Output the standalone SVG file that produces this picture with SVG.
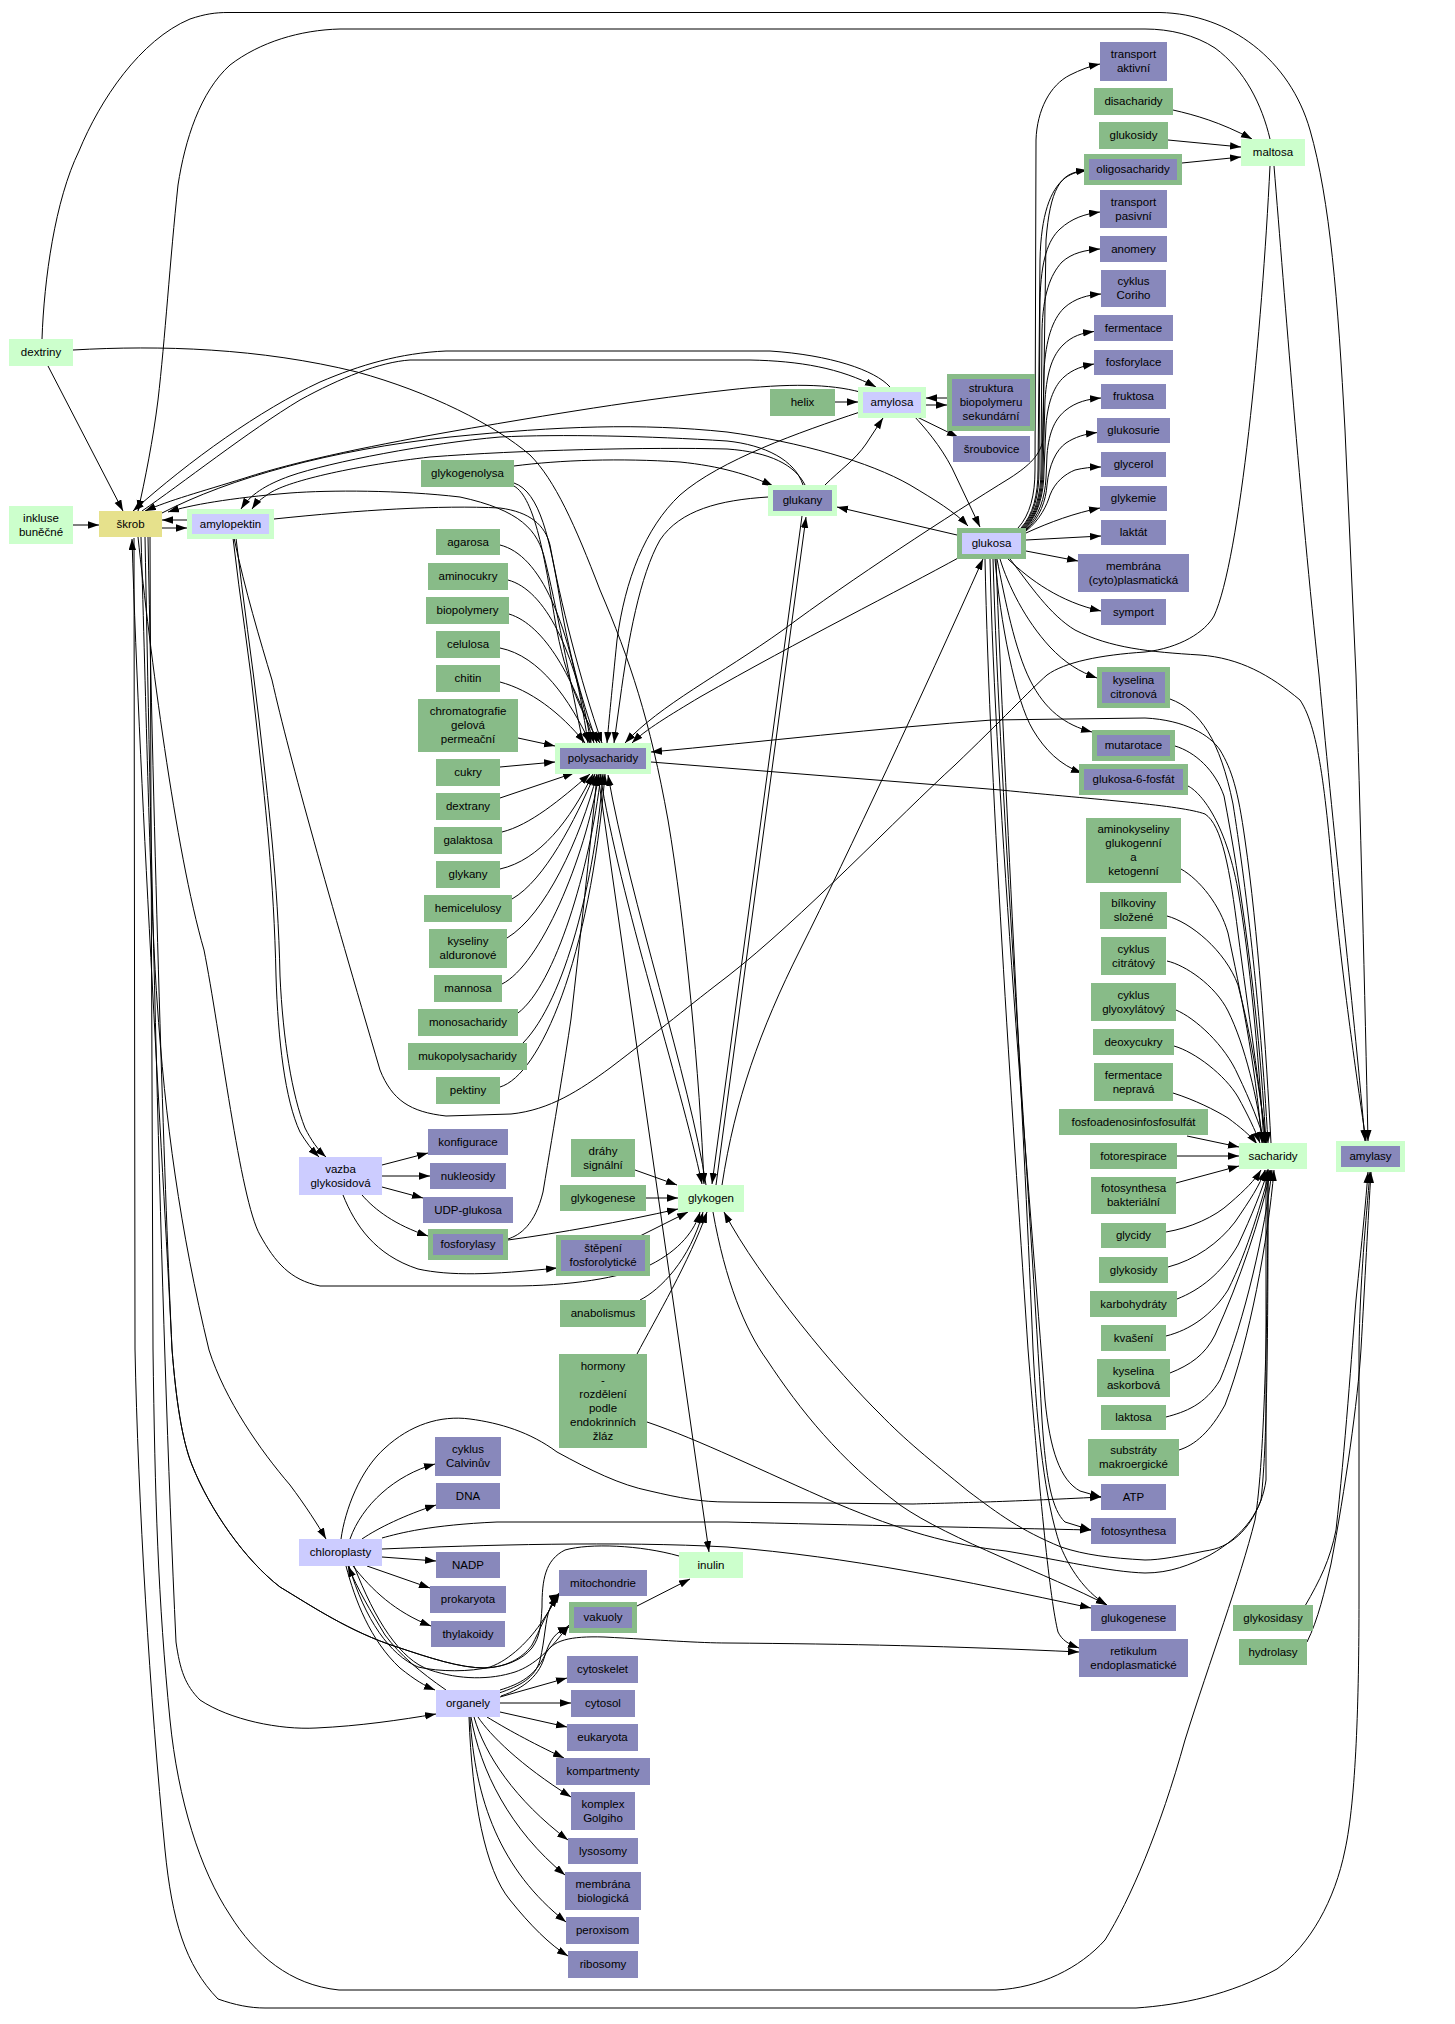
<svg xmlns="http://www.w3.org/2000/svg" width="1455" height="2024" viewBox="0 0 1455 2024">
<style>
.g{fill:#88bb88}.p{fill:#8888bb}.l{fill:#ccffcc}.v{fill:#ccccff}.y{fill:#e6e18c}
text{font-family:"Liberation Sans",Arial,sans-serif;font-size:11.5px;fill:#000;text-anchor:middle}
#edges path{fill:none;stroke:#000;stroke-width:1;marker-end:url(#a)}
#edges path.na{marker-end:none}
</style>
<defs>
<marker id="a" markerUnits="userSpaceOnUse" markerWidth="11" markerHeight="8" refX="11" refY="3.75" orient="auto"><path d="M0,0 L11,3.75 L0,7.5 z" fill="#000"/></marker>
</defs>
<rect width="1455" height="2024" fill="#fff"/>
<g id="edges">
<path d="M48,366 L123,511"/>
<path d="M73,525 L99,525"/>
<path d="M162,528 L187,528"/>
<path d="M187,520 L162,520"/>
<path d="M42,339 C44,280 55,200 79,151 C100,100 140,40 190,19 C205,14 215,12.5 228,12.5 L1160,12.5 C1230,14 1290,60 1310,130 C1330,200 1338,300 1345,430 L1356,675 C1360,800 1365,1000 1368,1141"/>
<path d="M1270,139 C1262,105 1245,70 1215,48 C1195,35 1170,29 1145,29 L340,29 C300,30 260,42 230,65 C200,92 185,140 178,185 C170,260 165,340 158,400 C153,440 145,480 138,511"/>
<path d="M73,350 C160,345 260,348 357,372 C430,392 495,425 530,455 C555,480 575,525 600,590 C630,660 650,720 668,820 C685,920 700,1080 704,1184"/>
<path d="M142,511 C180,485 250,430 300,400 C340,378 380,362 410,360 L750,360 C800,361 840,368 876,387"/>
<path d="M890,387 C875,370 830,355 770,351 L446,351 C400,353 360,365 320,382 C260,410 190,460 133,511"/>
<path d="M860,392 C830,384 790,383 728,390 C620,402 520,420 460,430 C380,444 300,460 245,478 C200,492 170,500 145,511"/>
<path d="M162,513 C230,478 330,450 450,437 C560,426 640,423 727,432 C800,442 870,462 910,485 C935,500 955,512 968,526"/>
<path d="M803,485 C795,460 765,445 727,441 C650,436 560,434 500,437 C430,443 330,462 290,476 C265,485 250,495 241,509"/>
<path d="M805,485 C795,465 770,452 727,449 C650,447 520,450 430,457 C360,465 290,480 270,493 C262,498 256,503 252,509"/>
<path d="M514,466 C560,460 620,458 680,462 C720,466 750,475 773,486"/>
<path d="M860,412 C800,432 720,460 680,495 C645,528 625,580 617,640 C612,690 609,720 607,743"/>
<path d="M768,497 C720,500 680,510 660,540 C640,575 628,640 620,700 L614,743"/>
<path d="M1084,171 C1060,172 1050,190 1046,240 L1043,440 C1040,455 1030,465 1010,478 C950,515 850,580 783,630 C720,675 660,705 625,743"/>
<path d="M960,557 C900,590 800,640 700,697 C670,715 645,730 632,743"/>
<path d="M914,416 C925,428 940,445 952,468 L980,527"/>
<path d="M835,402 L858,402"/>
<path d="M926,405 L947,405"/>
<path d="M947,398 L926,398"/>
<path d="M915,416 L958,437"/>
<path d="M825,485 C840,470 855,460 866,444 L883,418"/>
<path d="M957,535 L837,507"/>
<path d="M1018,528 C1030,515 1035,495 1035,470 L1036,140 C1037,110 1050,85 1070,75 C1080,70 1090,66 1100,64"/>
<path d="M1021,528 C1033,515 1038,495 1038,470 L1040,260 C1041,215 1050,190 1065,178 C1072,173 1080,171 1087,170"/>
<path d="M1022,528 C1034,515 1039,495 1039,470 L1040,300 C1041,260 1048,240 1060,229 C1072,218 1085,214 1100,212"/>
<path d="M1023,528 C1035,515 1041,495 1041,470 L1042,330 C1043,295 1050,275 1062,262 C1072,253 1085,250 1100,249"/>
<path d="M1024,528 C1036,515 1042,495 1042,470 L1044,370 C1046,340 1052,320 1064,308 C1075,298 1088,295 1101,294"/>
<path d="M1025,528 C1037,515 1043,495 1043,470 L1045,400 C1047,370 1053,355 1063,345 C1072,336 1082,333 1094,331.5"/>
<path d="M1025,529 C1038,515 1044,495 1044,470 L1046,425 C1048,400 1055,385 1064,377 C1073,369 1083,366 1094,364"/>
<path d="M1026,529 C1039,516 1045,498 1046,478 L1047,455 C1049,430 1056,418 1066,410 C1076,402 1088,399 1101,398"/>
<path d="M1026,530 C1040,518 1046,500 1047,485 C1049,465 1056,450 1066,443 C1075,437 1085,434 1097,432.6"/>
<path d="M1026,531 C1040,520 1047,505 1050,495 C1055,482 1065,474 1075,470 C1083,468 1092,467 1101,467"/>
<path d="M1026,533 C1050,522 1075,513 1100,508"/>
<path d="M1026,540 L1101,536"/>
<path d="M1026,551 L1078,561"/>
<path d="M1008,559 C1030,580 1060,602 1101,611"/>
<path d="M1000,559 C1008,585 1025,620 1050,647 C1065,663 1080,672 1097,678"/>
<path d="M997,559 C1005,600 1015,650 1030,680 C1045,710 1065,725 1092,732"/>
<path d="M995,559 C1000,620 1015,700 1033,730 C1045,750 1060,765 1082,773"/>
<path d="M990,559 C995,800 1030,1200 1045,1400 C1050,1450 1060,1480 1080,1491 L1101,1497"/>
<path d="M993,559 C1000,800 1030,1200 1042,1420 C1046,1480 1052,1510 1065,1522 L1091,1530"/>
<path d="M996,559 C1005,800 1025,1150 1033,1349 C1037,1430 1045,1500 1060,1545 C1072,1575 1090,1595 1107,1605"/>
<path d="M985,559 C990,800 1015,1150 1028,1349 C1040,1500 1050,1600 1058,1632 C1062,1640 1068,1644 1079,1648"/>
<path d="M1010,559 C1030,585 1050,615 1075,630 C1110,648 1150,652 1200,655 C1240,658 1270,675 1300,700 C1320,730 1326,800 1335,900 C1345,1000 1360,1100 1366,1141"/>
<path d="M722,1185 C735,1100 760,1030 800,950 C850,850 920,700 983,559"/>
<path d="M1173,110 C1195,115 1220,122 1252,139"/>
<path d="M1168,140 L1241,147"/>
<path d="M1182,163 L1241,157"/>
<path d="M1274,166 C1285,300 1300,500 1319,675 C1335,850 1355,1020 1365,1141"/>
<path class="na" d="M234,538 C245,590 260,640 272,680 C290,760 330,900 380,1070 C392,1100 410,1112 446,1116 L511,1114 C550,1110 580,1090 610,1068 C660,1030 690,1005 728,976 C800,920 900,815 955,765 C1000,722 1030,690 1047,675 C1065,662 1100,655 1145,652 C1180,648 1205,632 1214,616 C1240,560 1262,330 1270,166"/>
<path d="M500,545 C540,555 570,620 588,743"/>
<path d="M508,580 C545,590 575,650 591,743"/>
<path d="M509,614 C545,625 575,680 594,743"/>
<path d="M500,648 C540,656 570,700 590,743"/>
<path d="M500,682 C530,690 560,712 585,743"/>
<path d="M514,483 C540,492 550,540 560,600 C570,660 585,710 597,743"/>
<path d="M514,486 C535,498 545,560 555,620 C565,680 585,720 600,743"/>
<path d="M274,519 C360,510 440,505 500,508 C530,512 545,525 550,545 C560,600 580,680 602,743"/>
<path d="M583,743 C570,680 555,600 545,560 C538,530 520,510 460,497 C400,490 330,490 290,493 C230,498 190,505 168,512"/>
<path d="M518,738 L555,746"/>
<path d="M500,767 L555,762"/>
<path d="M500,798 L574,773"/>
<path d="M502,832 C530,825 560,800 590,774"/>
<path d="M500,869 C540,860 570,820 593,774"/>
<path d="M512,899 C545,880 575,820 595,774"/>
<path d="M507,938 C545,915 580,840 597,774"/>
<path d="M502,984 C540,965 585,860 599,774"/>
<path d="M518,1013 C555,985 590,870 601,774"/>
<path d="M523,1043 C565,1000 595,880 603,774"/>
<path d="M500,1087 C540,1075 590,960 605,774"/>
<path d="M600,774 C620,900 680,1080 702,1184"/>
<path d="M706,1185 C690,1080 630,900 608,775"/>
<path d="M598,775 L709,1552"/>
<path d="M651,762 L1001,790 C1100,800 1180,805 1205,814 C1222,825 1230,870 1238,933 C1248,1010 1260,1090 1266,1143"/>
<path d="M1271,1143 C1266,1050 1258,930 1245,840 C1238,790 1232,770 1220,750 C1210,735 1185,720 1145,718 L992,720 C880,728 760,742 651,752"/>
<path d="M635,1170 L677,1185"/>
<path d="M646,1198 L678,1198"/>
<path d="M508,1240 C560,1233 620,1222 678,1209"/>
<path d="M638,1237 L688,1212"/>
<path d="M640,1300 C660,1290 690,1260 703,1212"/>
<path d="M637,1354 C655,1320 690,1260 707,1212"/>
<path d="M138,537 C150,650 175,850 204,950 C220,1030 240,1200 260,1235 C275,1262 290,1280 320,1286 L511,1286 C570,1286 620,1278 650,1265 C680,1250 695,1230 700,1212"/>
<path d="M802,516 L712,1184"/>
<path d="M716,1185 L806,517"/>
<path d="M713,1212 C725,1280 745,1330 767,1360 C800,1410 840,1460 900,1505 C950,1540 1050,1575 1107,1605"/>
<path d="M1268,1169 C1268,1300 1268,1440 1261,1500 C1250,1530 1230,1548 1205,1551 C1180,1556 1160,1560 1145,1560 C1110,1558 1085,1555 1061,1547 C1020,1530 1000,1515 968,1491 C930,1460 905,1440 880,1414 C840,1375 760,1280 724,1212"/>
<path d="M647,1422 C700,1440 760,1470 838,1504 C900,1530 950,1545 1006,1551 C1060,1560 1110,1572 1145,1573 C1170,1573 1190,1565 1210,1555 C1245,1535 1262,1510 1266,1480 L1266,1170"/>
<path d="M150,537 L153,1349 C155,1500 158,1600 170,1720 C178,1800 200,1870 230,1915 C255,1955 290,1985 339,1990 L996,1990 C1040,1988 1080,1968 1105,1940 C1130,1900 1160,1830 1185,1740 C1210,1660 1240,1580 1255,1520 C1265,1460 1268,1300 1268,1170"/>
<path d="M134,538 L135,1349 C138,1500 150,1700 165,1850 C172,1920 185,1965 218,1999 C235,2005 250,2008 265,2008 L1136,2008 C1180,2005 1230,1995 1277,1969 C1310,1945 1335,1900 1345,1850 C1356,1800 1359,1700 1359,1600 L1359,1349 C1360,1280 1366,1220 1370,1172"/>
<path d="M141,537 C146,700 150,900 157,1000 C165,1120 180,1230 209,1350 C225,1400 260,1450 290,1485 C305,1505 318,1525 326,1539"/>
<path d="M145,537 C150,800 160,1300 176,1642 C180,1670 185,1685 200,1700 C230,1720 280,1730 316,1728 C360,1726 400,1720 436,1714"/>
<path d="M148,537 C155,900 165,1200 172,1349 C176,1400 182,1440 192,1465 C210,1510 245,1560 280,1587 C310,1605 350,1632 397,1647 C430,1658 460,1668 485,1668 C510,1667 525,1655 532,1645 C540,1630 545,1615 558,1596"/>
<path d="M679,1556 C640,1545 590,1543 565,1550 C545,1560 542,1580 542,1607 C541,1625 540,1637 532,1648 C522,1660 505,1667 485,1668 C460,1668 430,1658 397,1647 C350,1632 310,1605 280,1587 C245,1560 210,1510 192,1465 C182,1440 176,1400 172,1349 C165,1200 140,800 132,539"/>
<path d="M233,538 C240,600 250,660 256,720 C265,800 274,880 276,976 C278,1040 285,1100 300,1132 C306,1142 312,1150 319,1157"/>
<path d="M236,538 C243,600 252,660 259,720 C268,800 278,880 280,976 C283,1040 292,1095 305,1128 C311,1140 318,1150 326,1157"/>
<path d="M382,1165 L428,1153"/>
<path d="M382,1176 L430,1176"/>
<path d="M382,1187 L423,1198"/>
<path d="M362,1195 C375,1210 395,1225 428,1236"/>
<path d="M343,1195 C355,1225 375,1255 418,1269 C450,1276 490,1275 557,1268"/>
<path d="M508,1239 C520,1235 535,1225 543,1192 C555,1120 565,1060 571,1019 C580,940 590,850 597,775"/>
<path d="M350,1539 C362,1505 395,1475 435,1464"/>
<path d="M362,1539 C378,1528 405,1515 436,1505"/>
<path d="M382,1557 L436,1561"/>
<path d="M367,1566 L430,1588"/>
<path d="M353,1566 C372,1590 395,1612 431,1626"/>
<path d="M341,1539 C345,1510 360,1470 385,1448 C410,1425 440,1415 470,1419 C500,1423 530,1432 557,1452 C590,1470 620,1485 650,1491 C680,1498 700,1502 728,1502 L913,1504 C950,1503 1005,1502 1101,1497"/>
<path d="M382,1538 C400,1533 430,1525 497,1522 L727,1522 C850,1525 1000,1528 1091,1530"/>
<path d="M382,1549 C480,1545 620,1541 727,1547 C850,1557 960,1580 1091,1608"/>
<path d="M346,1566 C355,1600 370,1640 400,1668 C415,1680 425,1686 435,1690"/>
<path d="M446,1690 C420,1672 400,1655 385,1635 C370,1610 358,1590 348,1566"/>
<path d="M349,1566 C365,1620 390,1655 418,1667 C440,1672 470,1672 490,1667 C510,1660 530,1640 543,1620 C550,1610 555,1600 560,1592"/>
<path d="M354,1566 C375,1620 400,1660 430,1670 C460,1680 490,1680 515,1672 C535,1665 550,1650 569,1625"/>
<path d="M499,1693 C520,1686 535,1678 540,1660 C545,1640 545,1620 550,1608 C553,1600 556,1596 560,1594"/>
<path d="M501,1696 C525,1688 540,1675 545,1655 C550,1640 555,1632 569,1627"/>
<path d="M500,1697 L567,1678"/>
<path d="M500,1703 L571,1703"/>
<path d="M500,1712 L567,1727"/>
<path d="M487,1717 C505,1728 530,1742 564,1758"/>
<path d="M478,1717 C490,1735 520,1765 571,1797"/>
<path d="M474,1717 C485,1755 515,1800 568,1840"/>
<path d="M471,1717 C480,1770 510,1830 565,1875"/>
<path d="M470,1717 C475,1800 500,1870 566,1922"/>
<path d="M469,1717 C472,1800 485,1870 510,1900 C530,1925 550,1945 568,1956"/>
<path d="M500,1690 C520,1684 535,1676 545,1655 C552,1640 570,1636 604,1637 C660,1640 700,1643 727,1643 C850,1644 950,1646 1079,1652"/>
<path d="M637,1606 L690,1579"/>
<path d="M1170,699 C1200,710 1220,740 1233,804 C1245,880 1260,1000 1268,1143"/>
<path d="M1175,746 C1195,752 1215,770 1224,796 C1240,880 1258,1000 1266,1143"/>
<path d="M1188,786 C1200,792 1225,820 1238,890 C1250,960 1258,1050 1264,1143"/>
<path d="M1181,869 C1200,880 1220,905 1228,933 C1240,990 1255,1060 1262,1143"/>
<path d="M1167,916 C1190,922 1225,950 1238,985 C1250,1030 1260,1090 1266,1143"/>
<path d="M1167,961 C1185,965 1215,985 1228,1011 C1245,1045 1258,1100 1263,1143"/>
<path d="M1176,1010 C1195,1018 1225,1045 1238,1075 C1250,1100 1260,1125 1265,1143"/>
<path d="M1174,1046 C1195,1052 1225,1075 1238,1097 C1248,1115 1255,1130 1260,1143"/>
<path d="M1173,1093 C1195,1100 1215,1110 1228,1118 C1240,1127 1250,1135 1257,1144"/>
<path d="M1187,1136 L1239,1147"/>
<path d="M1177,1156 L1239,1156"/>
<path d="M1176,1183 L1239,1166"/>
<path d="M1166,1232 C1190,1228 1215,1217 1230,1203 C1245,1190 1255,1180 1261,1170"/>
<path d="M1168,1267 C1195,1260 1219,1243 1235,1222 C1250,1200 1260,1185 1265,1170"/>
<path d="M1177,1299 C1200,1290 1222,1273 1238,1245 C1252,1215 1262,1190 1268,1170"/>
<path d="M1166,1336 C1190,1330 1212,1315 1228,1290 C1248,1250 1262,1200 1270,1170"/>
<path d="M1170,1373 C1190,1365 1205,1355 1215,1335 C1240,1280 1260,1220 1271,1170"/>
<path d="M1166,1417 C1185,1412 1205,1405 1220,1380 C1245,1320 1265,1230 1272,1170"/>
<path d="M1179,1450 C1195,1445 1210,1432 1225,1405 C1250,1340 1268,1240 1274,1170"/>
<path d="M1305,1606 C1320,1580 1330,1560 1336,1530 C1345,1450 1352,1350 1356,1300 C1362,1240 1366,1200 1368,1172"/>
<path d="M1307,1642 C1318,1620 1325,1590 1331,1564 C1345,1490 1358,1400 1361,1349 C1365,1280 1368,1220 1371,1172"/>
</g>
<g id="n_dextriny"><rect class="l" x="9" y="339" width="64" height="27"/><text x="41" y="356">dextriny</text></g>
<g id="n_inkluse"><rect class="l" x="9" y="506" width="64" height="38"/><text x="41" y="521.5">inkluse<tspan x="41" dy="14">buněčné</tspan></text></g>
<g id="n_skrob"><rect class="y" x="99" y="511" width="63" height="26"/><text x="130.5" y="527.5">škrob</text></g>
<g id="n_amylopektin"><rect class="l" x="187" y="509" width="87" height="30"/><rect class="v" x="192" y="514" width="77" height="20"/><text x="230.5" y="527.5">amylopektin</text></g>
<g id="n_glykogenolysa"><rect class="g" x="421" y="460" width="93" height="27"/><text x="467.5" y="477">glykogenolysa</text></g>
<g id="n_agarosa"><rect class="g" x="436" y="529" width="64" height="26"/><text x="468" y="545.5">agarosa</text></g>
<g id="n_aminocukry"><rect class="g" x="428" y="563" width="80" height="27"/><text x="468" y="580">aminocukry</text></g>
<g id="n_biopolymery"><rect class="g" x="426" y="597" width="83" height="27"/><text x="467.5" y="614">biopolymery</text></g>
<g id="n_celulosa"><rect class="g" x="436" y="631" width="64" height="27"/><text x="468" y="648">celulosa</text></g>
<g id="n_chitin"><rect class="g" x="436" y="665" width="64" height="27"/><text x="468" y="682">chitin</text></g>
<g id="n_chromatografie"><rect class="g" x="418" y="699" width="100" height="53"/><text x="468" y="715">chromatografie<tspan x="468" dy="14">gelová</tspan><tspan x="468" dy="14">permeační</tspan></text></g>
<g id="n_polysacharidy"><rect class="l" x="555" y="743" width="96" height="31"/><rect class="p" x="560" y="748" width="86" height="21"/><text x="603" y="762">polysacharidy</text></g>
<g id="n_cukry"><rect class="g" x="436" y="759" width="64" height="27"/><text x="468" y="776">cukry</text></g>
<g id="n_dextrany"><rect class="g" x="436" y="793" width="64" height="27"/><text x="468" y="810">dextrany</text></g>
<g id="n_galaktosa"><rect class="g" x="434" y="827" width="68" height="27"/><text x="468" y="844">galaktosa</text></g>
<g id="n_glykany"><rect class="g" x="436" y="861" width="64" height="27"/><text x="468" y="878">glykany</text></g>
<g id="n_hemicelulosy"><rect class="g" x="424" y="895" width="88" height="27"/><text x="468" y="912">hemicelulosy</text></g>
<g id="n_kyseliny_alduronove"><rect class="g" x="429" y="929" width="78" height="39"/><text x="468" y="945">kyseliny<tspan x="468" dy="14">alduronové</tspan></text></g>
<g id="n_mannosa"><rect class="g" x="434" y="975" width="68" height="27"/><text x="468" y="992">mannosa</text></g>
<g id="n_monosacharidy"><rect class="g" x="418" y="1009" width="100" height="27"/><text x="468" y="1026">monosacharidy</text></g>
<g id="n_mukopolysacharidy"><rect class="g" x="408" y="1043" width="119" height="27"/><text x="467.5" y="1060">mukopolysacharidy</text></g>
<g id="n_pektiny"><rect class="g" x="436" y="1077" width="64" height="27"/><text x="468" y="1094">pektiny</text></g>
<g id="n_vazba"><rect class="v" x="299" y="1157" width="83" height="38"/><text x="340.5" y="1172.5">vazba<tspan x="340.5" dy="14">glykosidová</tspan></text></g>
<g id="n_konfigurace"><rect class="p" x="428" y="1129" width="80" height="26"/><text x="468" y="1145.5">konfigurace</text></g>
<g id="n_nukleosidy"><rect class="p" x="430" y="1163" width="76" height="26"/><text x="468" y="1179.5">nukleosidy</text></g>
<g id="n_udp"><rect class="p" x="423" y="1197" width="90" height="26"/><text x="468" y="1213.5">UDP-glukosa</text></g>
<g id="n_fosforylasy"><rect class="g" x="428" y="1229" width="80" height="31"/><rect class="p" x="433" y="1234" width="70" height="21"/><text x="468" y="1248">fosforylasy</text></g>
<g id="n_drahy"><rect class="g" x="571" y="1139" width="64" height="38"/><text x="603" y="1154.5">dráhy<tspan x="603" dy="14">signální</tspan></text></g>
<g id="n_glykogenese"><rect class="g" x="560" y="1185" width="86" height="26"/><text x="603" y="1201.5">glykogenese</text></g>
<g id="n_glykogen"><rect class="l" x="678" y="1185" width="66" height="27"/><text x="711" y="1202">glykogen</text></g>
<g id="n_stepeni"><rect class="g" x="556" y="1235" width="94" height="41"/><rect class="p" x="561" y="1240" width="84" height="31"/><text x="603" y="1252">štěpení<tspan x="603" dy="14">fosforolytické</tspan></text></g>
<g id="n_anabolismus"><rect class="g" x="560" y="1300" width="86" height="27"/><text x="603" y="1317">anabolismus</text></g>
<g id="n_hormony"><rect class="g" x="559" y="1354" width="88" height="94"/><text x="603" y="1369.5">hormony<tspan x="603" dy="14">-</tspan><tspan x="603" dy="14">rozdělení</tspan><tspan x="603" dy="14">podle</tspan><tspan x="603" dy="14">endokrinních</tspan><tspan x="603" dy="14">žláz</tspan></text></g>
<g id="n_calvin"><rect class="p" x="435" y="1437" width="66" height="39"/><text x="468" y="1453">cyklus<tspan x="468" dy="14">Calvinův</tspan></text></g>
<g id="n_dna"><rect class="p" x="436" y="1483" width="64" height="26"/><text x="468" y="1499.5">DNA</text></g>
<g id="n_chloroplasty"><rect class="v" x="299" y="1539" width="83" height="27"/><text x="340.5" y="1556">chloroplasty</text></g>
<g id="n_nadp"><rect class="p" x="436" y="1552" width="64" height="26"/><text x="468" y="1568.5">NADP</text></g>
<g id="n_inulin"><rect class="l" x="679" y="1552" width="64" height="26"/><text x="711" y="1568.5">inulin</text></g>
<g id="n_prokaryota"><rect class="p" x="430" y="1586" width="76" height="27"/><text x="468" y="1603">prokaryota</text></g>
<g id="n_mitochondrie"><rect class="p" x="559" y="1570" width="88" height="26"/><text x="603" y="1586.5">mitochondrie</text></g>
<g id="n_vakuoly"><rect class="g" x="569" y="1602" width="68" height="31"/><rect class="p" x="574" y="1607" width="58" height="21"/><text x="603" y="1621">vakuoly</text></g>
<g id="n_thylakoidy"><rect class="p" x="431" y="1621" width="74" height="26"/><text x="468" y="1637.5">thylakoidy</text></g>
<g id="n_cytoskelet"><rect class="p" x="567" y="1656" width="71" height="27"/><text x="602.5" y="1673">cytoskelet</text></g>
<g id="n_organely"><rect class="v" x="436" y="1690" width="64" height="27"/><text x="468" y="1707">organely</text></g>
<g id="n_cytosol"><rect class="p" x="571" y="1690" width="64" height="27"/><text x="603" y="1707">cytosol</text></g>
<g id="n_eukaryota"><rect class="p" x="567" y="1724" width="71" height="27"/><text x="602.5" y="1741">eukaryota</text></g>
<g id="n_kompartmenty"><rect class="p" x="556" y="1758" width="94" height="27"/><text x="603" y="1775">kompartmenty</text></g>
<g id="n_golgi"><rect class="p" x="571" y="1792" width="64" height="38"/><text x="603" y="1807.5">komplex<tspan x="603" dy="14">Golgiho</tspan></text></g>
<g id="n_lysosomy"><rect class="p" x="568" y="1838" width="70" height="26"/><text x="603" y="1854.5">lysosomy</text></g>
<g id="n_membrana_bio"><rect class="p" x="565" y="1872" width="76" height="38"/><text x="603" y="1887.5">membrána<tspan x="603" dy="14">biologická</tspan></text></g>
<g id="n_peroxisom"><rect class="p" x="566" y="1917" width="73" height="27"/><text x="602.5" y="1934">peroxisom</text></g>
<g id="n_ribosomy"><rect class="p" x="568" y="1951" width="70" height="27"/><text x="603" y="1968">ribosomy</text></g>
<g id="n_transport_aktivni"><rect class="p" x="1100" y="42" width="67" height="39"/><text x="1133.5" y="58">transport<tspan x="1133.5" dy="14">aktivní</tspan></text></g>
<g id="n_disacharidy"><rect class="g" x="1094" y="88" width="79" height="27"/><text x="1133.5" y="105">disacharidy</text></g>
<g id="n_glukosidy"><rect class="g" x="1099" y="122" width="69" height="27"/><text x="1133.5" y="139">glukosidy</text></g>
<g id="n_oligosacharidy"><rect class="g" x="1084" y="154" width="98" height="31"/><rect class="p" x="1089" y="159" width="88" height="21"/><text x="1133" y="173">oligosacharidy</text></g>
<g id="n_maltosa"><rect class="l" x="1241" y="139" width="64" height="27"/><text x="1273" y="156">maltosa</text></g>
<g id="n_transport_pasivni"><rect class="p" x="1100" y="190" width="67" height="38"/><text x="1133.5" y="205.5">transport<tspan x="1133.5" dy="14">pasivní</tspan></text></g>
<g id="n_anomery"><rect class="p" x="1100" y="236" width="67" height="26"/><text x="1133.5" y="252.5">anomery</text></g>
<g id="n_coriho"><rect class="p" x="1101" y="270" width="65" height="37"/><text x="1133.5" y="285">cyklus<tspan x="1133.5" dy="14">Coriho</tspan></text></g>
<g id="n_fermentace"><rect class="p" x="1094" y="315" width="79" height="26"/><text x="1133.5" y="331.5">fermentace</text></g>
<g id="n_fosforylace"><rect class="p" x="1094" y="350" width="79" height="25"/><text x="1133.5" y="366">fosforylace</text></g>
<g id="n_fruktosa"><rect class="p" x="1101" y="384" width="65" height="25"/><text x="1133.5" y="400">fruktosa</text></g>
<g id="n_glukosurie"><rect class="p" x="1097" y="418" width="73" height="25"/><text x="1133.5" y="434">glukosurie</text></g>
<g id="n_glycerol"><rect class="p" x="1101" y="452" width="65" height="25"/><text x="1133.5" y="468">glycerol</text></g>
<g id="n_glykemie"><rect class="p" x="1100" y="486" width="67" height="25"/><text x="1133.5" y="502">glykemie</text></g>
<g id="n_laktat"><rect class="p" x="1101" y="520" width="65" height="25"/><text x="1133.5" y="536">laktát</text></g>
<g id="n_membrana_cyto"><rect class="p" x="1078" y="554" width="111" height="38"/><text x="1133.5" y="569.5">membrána<tspan x="1133.5" dy="14">(cyto)plasmatická</tspan></text></g>
<g id="n_symport"><rect class="p" x="1101" y="599" width="65" height="26"/><text x="1133.5" y="615.5">symport</text></g>
<g id="n_helix"><rect class="g" x="770" y="389" width="65" height="27"/><text x="802.5" y="406">helix</text></g>
<g id="n_amylosa"><rect class="l" x="858" y="387" width="68" height="31"/><rect class="v" x="863" y="392" width="58" height="21"/><text x="892" y="406">amylosa</text></g>
<g id="n_struktura"><rect class="g" x="947" y="374" width="88" height="57"/><rect class="p" x="952" y="379" width="78" height="47"/><text x="991" y="392">struktura<tspan x="991" dy="14">biopolymeru</tspan><tspan x="991" dy="14">sekundární</tspan></text></g>
<g id="n_sroubovice"><rect class="p" x="953" y="436" width="77" height="26"/><text x="991.5" y="452.5">šroubovice</text></g>
<g id="n_glukany"><rect class="l" x="768" y="485" width="69" height="31"/><rect class="p" x="773" y="490" width="59" height="21"/><text x="802.5" y="504">glukany</text></g>
<g id="n_glukosa"><rect class="g" x="957" y="528" width="69" height="31"/><rect class="v" x="962" y="533" width="59" height="21"/><text x="991.5" y="547">glukosa</text></g>
<g id="n_kyselina_citronova"><rect class="g" x="1097" y="667" width="73" height="41"/><rect class="p" x="1102" y="672" width="63" height="31"/><text x="1133.5" y="684">kyselina<tspan x="1133.5" dy="14">citronová</tspan></text></g>
<g id="n_mutarotace"><rect class="g" x="1092" y="730" width="83" height="31"/><rect class="p" x="1097" y="735" width="73" height="21"/><text x="1133.5" y="749">mutarotace</text></g>
<g id="n_g6f"><rect class="g" x="1079" y="764" width="109" height="31"/><rect class="p" x="1084" y="769" width="99" height="21"/><text x="1133.5" y="783">glukosa-6-fosfát</text></g>
<g id="n_aminokyseliny"><rect class="g" x="1086" y="818" width="95" height="65"/><text x="1133.5" y="833">aminokyseliny<tspan x="1133.5" dy="14">glukogenní</tspan><tspan x="1133.5" dy="14">a</tspan><tspan x="1133.5" dy="14">ketogenní</tspan></text></g>
<g id="n_bilkoviny"><rect class="g" x="1100" y="892" width="67" height="37"/><text x="1133.5" y="907">bílkoviny<tspan x="1133.5" dy="14">složené</tspan></text></g>
<g id="n_citratovy"><rect class="g" x="1101" y="937" width="65" height="38"/><text x="1133.5" y="952.5">cyklus<tspan x="1133.5" dy="14">citrátový</tspan></text></g>
<g id="n_glyoxylatovy"><rect class="g" x="1091" y="983" width="85" height="38"/><text x="1133.5" y="998.5">cyklus<tspan x="1133.5" dy="14">glyoxylátový</tspan></text></g>
<g id="n_deoxycukry"><rect class="g" x="1093" y="1029" width="81" height="26"/><text x="1133.5" y="1045.5">deoxycukry</text></g>
<g id="n_fermentace_neprava"><rect class="g" x="1094" y="1063" width="79" height="38"/><text x="1133.5" y="1078.5">fermentace<tspan x="1133.5" dy="14">nepravá</tspan></text></g>
<g id="n_paps"><rect class="g" x="1059" y="1109" width="149" height="26"/><text x="1133.5" y="1125.5">fosfoadenosinfosfosulfát</text></g>
<g id="n_fotorespirace"><rect class="g" x="1090" y="1143" width="87" height="26"/><text x="1133.5" y="1159.5">fotorespirace</text></g>
<g id="n_sacharidy"><rect class="l" x="1239" y="1143" width="68" height="26"/><text x="1273" y="1159.5">sacharidy</text></g>
<g id="n_amylasy"><rect class="l" x="1336" y="1141" width="69" height="31"/><rect class="p" x="1341" y="1146" width="59" height="21"/><text x="1370.5" y="1160">amylasy</text></g>
<g id="n_fotosynthesa_bakt"><rect class="g" x="1091" y="1177" width="85" height="37"/><text x="1133.5" y="1192">fotosynthesa<tspan x="1133.5" dy="14">bakteriální</tspan></text></g>
<g id="n_glycidy"><rect class="g" x="1101" y="1223" width="65" height="25"/><text x="1133.5" y="1239">glycidy</text></g>
<g id="n_glykosidy"><rect class="g" x="1099" y="1257" width="69" height="26"/><text x="1133.5" y="1273.5">glykosidy</text></g>
<g id="n_karbohydraty"><rect class="g" x="1090" y="1291" width="87" height="26"/><text x="1133.5" y="1307.5">karbohydráty</text></g>
<g id="n_kvaseni"><rect class="g" x="1101" y="1325" width="65" height="26"/><text x="1133.5" y="1341.5">kvašení</text></g>
<g id="n_askorbova"><rect class="g" x="1097" y="1359" width="73" height="38"/><text x="1133.5" y="1374.5">kyselina<tspan x="1133.5" dy="14">askorbová</tspan></text></g>
<g id="n_laktosa"><rect class="g" x="1101" y="1405" width="65" height="25"/><text x="1133.5" y="1421">laktosa</text></g>
<g id="n_substraty"><rect class="g" x="1088" y="1439" width="91" height="37"/><text x="1133.5" y="1454">substráty<tspan x="1133.5" dy="14">makroergické</tspan></text></g>
<g id="n_atp"><rect class="p" x="1101" y="1484" width="65" height="26"/><text x="1133.5" y="1500.5">ATP</text></g>
<g id="n_fotosynthesa"><rect class="p" x="1091" y="1518" width="85" height="26"/><text x="1133.5" y="1534.5">fotosynthesa</text></g>
<g id="n_glukogenese"><rect class="p" x="1091" y="1605" width="85" height="26"/><text x="1133.5" y="1621.5">glukogenese</text></g>
<g id="n_retikulum"><rect class="p" x="1079" y="1639" width="109" height="38"/><text x="1133.5" y="1654.5">retikulum<tspan x="1133.5" dy="14">endoplasmatické</tspan></text></g>
<g id="n_glykosidasy"><rect class="g" x="1233" y="1605" width="80" height="26"/><text x="1273" y="1621.5">glykosidasy</text></g>
<g id="n_hydrolasy"><rect class="g" x="1239" y="1639" width="68" height="26"/><text x="1273" y="1655.5">hydrolasy</text></g>
</svg>
